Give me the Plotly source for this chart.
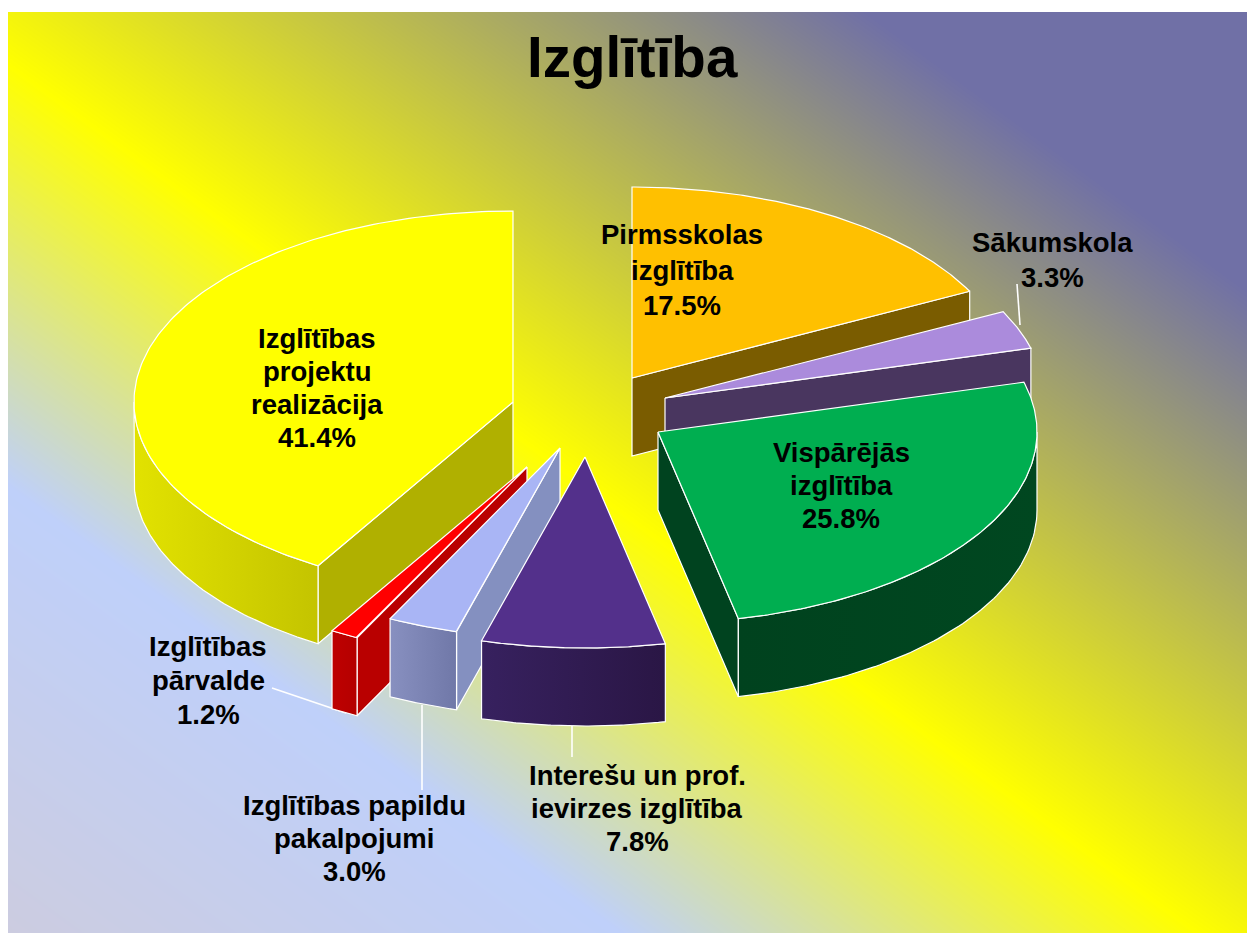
import numpy as np
import plotly.graph_objects as go

# ---- data -----------------------------------------------------------------
TITLE = "Izglītība"
CATEGORIES = ["Pirmsskolas izglītība", "Sākumskola", "Vispārējās izglītība",
              "Interešu un prof. ievirzes izglītība", "Izglītības papildu pakalpojumi",
              "Izglītības pārvalde", "Izglītības projektu realizācija"]
SHARES = [17.5, 3.3, 25.8, 7.8, 3.0, 1.2, 41.4]
LABEL_LINES = [["Pirmsskolas", "izglītība"], ["Sākumskola"], ["Vispārējās", "izglītība"],
               ["Interešu un prof.", "ievirzes izglītība"], ["Izglītības papildu", "pakalpojumi"],
               ["Izglītības", "pārvalde"], ["Izglītības", "projektu", "realizācija"]]

# ---- styling / layout ------------------------------------------------------
APEX_X = [632, 665, 658, 585, 560, 527, 513]
APEX_Y = [378, 398, 432, 457, 448, 467, 402]
LABEL_X = [682, 1052, 841, 637, 354, 208, 317]
LABEL_Y = [270, 260, 485, 808, 838, 680, 388]
LABEL_STEP = [35, 34, 33, 33, 33, 34, 33.3]
TOP = ["#FFC000", "#AB8BDC", "#00AE50", "#53308B", "#A9B5F5", "#FF0000", "#FFFF00"]
RADIAL = ["#7A5C00", "#49365F", "#00431F", "#35205C", "#8490C0", "#B90000", "#B0B000"]
RIM_L = ["#7A5C00", "#49365F", "#00421E", "#37215F", "#8890C0", "#BE0000", "#E2E200"]
RIM_R = ["#7A5C00", "#49365F", "#004720", "#2A1645", "#7078A8", "#B40000", "#C4C400"]
PAINT_ORDER = [0, 1, 2, 6, 5, 4, 3]
LEADERS = [((1017, 284), (1020, 325)), ((272, 688), (346, 713)),
           ((422, 705), (422, 790)), ((572, 726), (572, 757))]
RX, RY, DEPTH = 379, 191, 78
FONT = "Liberation Sans, Arial, sans-serif"
W, H = 1247, 933
LEFT, TOP_EDGE = 8, 12

fig = go.Figure()

# diagonal background gradient
bx = [LEFT, W]
by = [TOP_EDGE, H]
f = lambda x, y: 0.73 * x - y
bz = [[f(x, y) for x in bx] for y in by]
zmin, zmax = f(LEFT, H), f(W, TOP_EDGE)
stop = lambda v: (v - zmin) / (zmax - zmin)
fig.add_trace(go.Heatmap(
    x=bx, y=by, z=bz, zmin=zmin, zmax=zmax, zsmooth="best", showscale=False, hoverinfo="skip",
    colorscale=[[0, "#CCCCE0"], [stop(-480), "#BFD0FA"], [stop(-58), "#FFFF00"],
                [stop(620), "#7070A6"], [1, "#7070A6"]]))

def line(xs, ys, color="white", width=1.2):
    fig.add_trace(go.Scatter(x=xs, y=ys, mode="lines", line=dict(color=color, width=width),
                             showlegend=False, hoverinfo="skip"))

def poly(xs, ys, color=None, grad=None):
    kw = dict(fillcolor=color) if grad is None else dict(
        fillgradient=dict(type="horizontal", colorscale=[[0, grad[0]], [1, grad[1]]]))
    fig.add_trace(go.Scatter(x=list(xs) + [xs[0]], y=list(ys) + [ys[0]], mode="lines", fill="toself",
                             line=dict(color="white", width=1.2), showlegend=False,
                             hoverinfo="skip", **kw))

for (a, b) in LEADERS:
    line([a[0], b[0]], [a[1], b[1]], width=1.6)

edges = np.concatenate([[0], np.cumsum(SHARES)]) / sum(SHARES) * 2 * np.pi

def pt(i, ang):
    return APEX_X[i] + RX * np.sin(ang), APEX_Y[i] - RY * np.cos(ang)

for i in PAINT_ORDER:
    a0, a1 = edges[i], edges[i + 1]
    cx, cy = APEX_X[i], APEX_Y[i]
    # radial walls that face the viewer
    if np.sin(a0) < 0:
        px, py = pt(i, a0)
        poly([cx, px, px, cx], [cy, py, py + DEPTH, cy + DEPTH], RADIAL[i])
    if np.sin(a1) > 0:
        px, py = pt(i, a1)
        poly([cx, px, px, cx], [cy, py, py + DEPTH, cy + DEPTH], RADIAL[i])
    # outer rim (front half of the ellipse only)
    r0, r1 = max(a0, np.pi / 2), min(a1, 3 * np.pi / 2)
    if r1 > r0:
        ang = np.linspace(r0, r1, 80)
        ex, ey = pt(i, ang)
        xs = np.concatenate([ex, ex[::-1]])
        ys = np.concatenate([ey, ey[::-1] + DEPTH])
        poly(xs.tolist(), ys.tolist(), grad=(RIM_L[i], RIM_R[i]))
    # top face
    ang = np.linspace(a0, a1, 160)
    ex, ey = pt(i, ang)
    poly([cx] + ex.tolist(), [cy] + ey.tolist(), TOP[i])

for i, cat in enumerate(CATEGORIES):
    rows = LABEL_LINES[i] + [f"{SHARES[i]:.1f}%"]
    for k, row in enumerate(rows):
        fig.add_annotation(x=LABEL_X[i], y=LABEL_Y[i] + (k - (len(rows) - 1) / 2) * LABEL_STEP[i],
                           text=row, showarrow=False, xanchor="center", yanchor="middle",
                           font=dict(family=FONT, size=27.5, color="black", weight="bold"))

fig.add_annotation(x=632, y=58, text=TITLE, showarrow=False, xanchor="center", yanchor="middle",
                   font=dict(family=FONT, size=56.5, color="black", weight="bold"))

fig.update_layout(width=W, height=H, margin=dict(l=0, r=0, t=0, b=0), paper_bgcolor="white",
                  plot_bgcolor="white", showlegend=False,
                  xaxis=dict(domain=[LEFT / W, 1], range=[LEFT, W], visible=False, fixedrange=True),
                  yaxis=dict(domain=[0, 1 - TOP_EDGE / H], range=[H, TOP_EDGE], visible=False,
                             fixedrange=True))

fig.write_html("out.html", config={"displayModeBar": False},
               post_script="document.body.style.margin='0';document.body.style.overflow='hidden';")
